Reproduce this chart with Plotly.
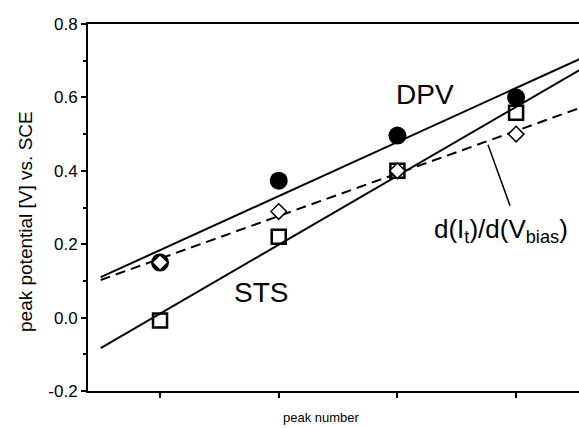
import numpy as np
import plotly.graph_objects as go

peak = [1, 2, 3, 4]
dpv = [0.150, 0.373, 0.496, 0.600]
sts = [-0.008, 0.220, 0.400, 0.558]
didv = [0.150, 0.289, 0.400, 0.500]
y_ticks = [-0.2, 0.0, 0.2, 0.4, 0.6, 0.8]
y_ticktext = ["-0.2", "0.0", "0.2", "0.4", "0.6", "0.8"]
y_minor = [-0.1, 0.1, 0.3, 0.5, 0.7]

x_fit = np.array([0.5, 4.7])

W, H = 579, 428
L, R, T, B = 88, 0, 24, 37
X0, X1 = 0.393, 4.53

fig = go.Figure()

def fit_line(y, dash):
    k, b = np.polyfit(peak, y, 1)
    fig.add_trace(go.Scatter(x=x_fit, y=k * x_fit + b, mode="lines",
                             line=dict(color="black", width=2, dash=dash),
                             showlegend=False, hoverinfo="skip"))

fit_line(dpv, "solid")
fit_line(sts, "solid")
fit_line(didv, "10px,6px")

fig.add_trace(go.Scatter(x=peak, y=dpv, mode="markers",
                         marker=dict(symbol="circle", size=18, color="black"),
                         showlegend=False))
fig.add_trace(go.Scatter(x=peak, y=sts, mode="markers",
                         marker=dict(symbol="square-open", size=14, color="black",
                                     line=dict(width=2.5)),
                         showlegend=False))
fig.add_trace(go.Scatter(x=peak, y=didv, mode="markers",
                         marker=dict(symbol="diamond", size=12, color="white",
                                     line=dict(width=1.5, color="black")),
                         showlegend=False))

fig.add_shape(type="line", x0=3.763, y0=0.471, x1=3.949, y1=0.305,
              xref="x", yref="y", line=dict(color="black", width=1.5))

def px_x(p):
    return (p - L) / (W - L - R)

def px_y(p):
    return (H - B - p) / (H - B - T)

FAM = "Arial, Liberation Sans, sans-serif"
font_big = dict(family=FAM, size=28, color="black")
fig.add_annotation(x=px_x(425), y=px_y(94), xref="paper", yref="paper", text="DPV",
                   showarrow=False, font=font_big, xanchor="center", yanchor="middle")
fig.add_annotation(x=px_x(261), y=px_y(292), xref="paper", yref="paper", text="STS",
                   showarrow=False, font=font_big, xanchor="center", yanchor="middle")
fig.add_annotation(x=px_x(501), y=px_y(230), xref="paper", yref="paper",
                   text="d(I<sub>t</sub>)/d(V<sub>bias</sub>)",
                   showarrow=False, font=dict(family=FAM, size=26, color="black"),
                   xanchor="center", yanchor="middle")
fig.add_annotation(x=px_x(25), y=px_y(222), xref="paper", yref="paper",
                   text="peak potential [V] vs. SCE", showarrow=False, textangle=-90,
                   font=dict(family=FAM, size=19, color="black"),
                   xanchor="center", yanchor="middle")
fig.add_annotation(x=px_x(321), y=px_y(417), xref="paper", yref="paper",
                   text="peak number", showarrow=False,
                   font=dict(family=FAM, size=13, color="black"),
                   xanchor="center", yanchor="middle")

fig.update_layout(
    width=W, height=H,
    margin=dict(l=L, r=R, t=T, b=B),
    plot_bgcolor="white", paper_bgcolor="white",
    font=dict(family=FAM, size=17, color="black"),
)

fig.update_xaxes(range=[X0, X1], tickvals=peak, showticklabels=False,
                 ticks="outside", ticklen=5, tickwidth=1.5, tickcolor="black",
                 showline=True, linewidth=2, linecolor="black", mirror=True,
                 showgrid=False, zeroline=False)
fig.update_yaxes(range=[-0.2, 0.8], tickvals=y_ticks, ticktext=y_ticktext,
                 ticks="outside", ticklen=5, tickwidth=1.5, tickcolor="black",
                 minor=dict(tickvals=y_minor, ticks="outside",
                            ticklen=3, tickwidth=1.5, tickcolor="black"),
                 showline=True, linewidth=2, linecolor="black", mirror=False,
                 showgrid=False, zeroline=False,
                 tickfont=dict(family=FAM, size=17, color="black"))

fig.write_html("out.html")
